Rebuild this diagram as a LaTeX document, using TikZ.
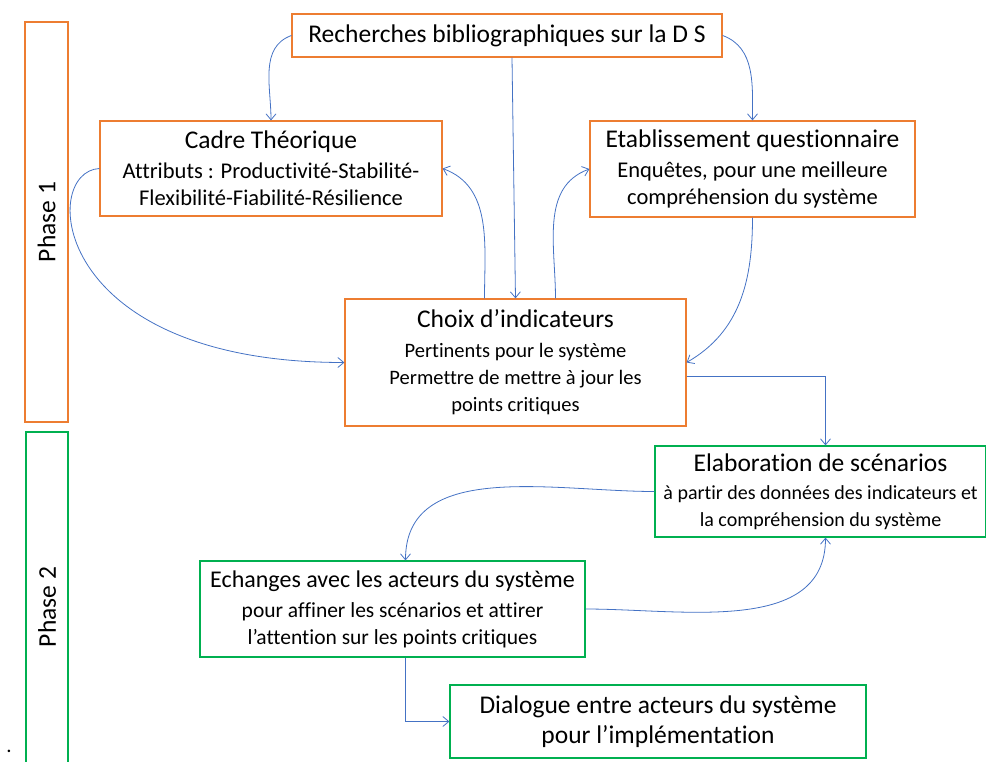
\documentclass[tikz,border=0pt]{standalone}
\usepackage{fontspec}
\setmainfont{Carlito}[Ligatures=NoCommon]
\usetikzlibrary{arrows.meta}

\definecolor{boxorange}{RGB}{237,125,49}
\definecolor{boxgreen}{RGB}{0,176,80}
\definecolor{linkblue}{RGB}{68,114,196}

\newcommand{\bigtxt}{\fontsize{25.5}{30}\selectfont}
\newcommand{\subtxt}[1]{\fontsize{#1}{27}\selectfont}

\tikzset{
  orangebox/.style={draw=boxorange, line width=1.2pt, align=center, inner sep=0pt},
  greenbox/.style={draw=boxgreen, line width=1.2pt, align=center, inner sep=0pt},
  phasebox/.style={line width=1.2pt, rotate=90, inner sep=0pt, font=\bigtxt},
  link/.style={draw=linkblue, line width=0.8pt, -{Straight Barb[length=6pt,width=10pt]}},
}

\begin{document}
\begin{tikzpicture}[x=1pt,y=1pt]
    \useasboundingbox (0,0) rectangle (986,-761);

    % Phases
    \node[phasebox, draw=boxorange, minimum width=400, minimum height=43] (phaseA) at (46.5,-222) {Phase 1};
    \node[phasebox, draw=boxgreen, minimum width=350, minimum height=42] (phaseB) at (47,-607) {Phase 2};
    \node[font=\subtxt{21}, anchor=base] (dot) at (9,-752) {.};

    % Phase 1 boxes
    \node[orangebox, font=\bigtxt, minimum width=430, minimum height=43] (rech) at (507,-35.5)
        {Recherches bibliographiques sur la D S};
    \node[orangebox, font=\subtxt{22.5}, minimum width=342, minimum height=95] (cadre) at (271,-168.5)
        {{\bigtxt Cadre Théorique}\\[3pt] Attributs : Productivité-Stabilité-\\ Flexibilité-Fiabilité-Résilience};
    \node[orangebox, font=\subtxt{22.5}, minimum width=325, minimum height=96] (etab) at (752.5,-169)
        {{\bigtxt Etablissement questionnaire}\\[3pt] Enquêtes, pour une meilleure\\ compréhension du système};
    \node[orangebox, font=\subtxt{20.5}, minimum width=341, minimum height=127] (choix) at (515.5,-362.5)
        {{\bigtxt Choix d’indicateurs}\\[3pt] Pertinents pour le système\\ Permettre de mettre à jour les\\ points critiques};

    % Phase 2 boxes
    \node[greenbox, font=\subtxt{20}, minimum width=331, minimum height=91] (elab) at (820.5,-491.5)
        {{\bigtxt Elaboration de scénarios}\\[1pt] à partir des données des indicateurs et\\ la compréhension du système};
    \node[greenbox, font=\subtxt{21.5}, minimum width=385, minimum height=96] (ech) at (392.5,-609)
        {{\fontsize{24}{30}\selectfont Echanges avec les acteurs du système}\\[3pt] pour affiner les scénarios et attirer\\ l’attention sur les points critiques};
    \node[greenbox, font=\bigtxt, minimum width=416, minimum height=73] (dial) at (658,-721.5)
        {Dialogue entre acteurs du système\\ pour l’implémentation};

    % Links of phase 1
    \draw[link] (rech.west) to[out=200,in=90] (cadre.north);
    \draw[link] (rech.east) to[out=-20,in=90] (etab.north);
    \draw[link] ([xshift=5]rech.south) -- (choix.north);
    \draw[link] (cadre.west) .. controls +(-60,-3) and +(-295,0) .. (choix.west);
    \draw[link] ([xshift=-31]choix.north) to[out=90,in=-20] (cadre.east);
    \draw[link] ([xshift=40]choix.north) to[out=90,in=200] (etab.west);
    \draw[link] (etab.south) to[out=-90,in=30] (choix.east);

    % Links of phase 2
    \draw[link] ([yshift=-14]choix.east) -| ([xshift=5]elab.north);
    \draw[link] (elab.west) to[out=180,in=90] ([xshift=13]ech.north);
    \draw[link] (ech.east) to[out=0,in=-90] ([xshift=5]elab.south);
    \draw[link] ([xshift=13]ech.south) |- (dial.west);
\end{tikzpicture}
\end{document}
